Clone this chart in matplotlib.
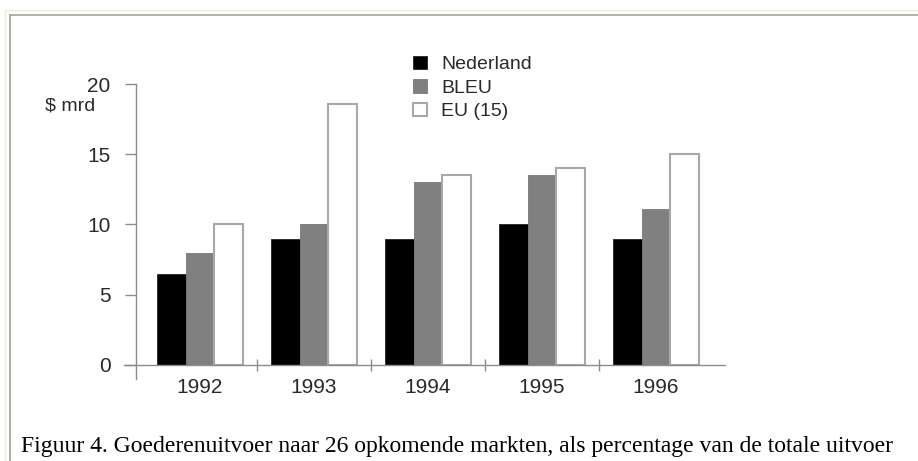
import matplotlib
matplotlib.use('Agg')
import matplotlib.pyplot as plt
from matplotlib.lines import Line2D
import numpy as np

years = ['1992', '1993', '1994', '1995', '1996']
nederland = [6.5, 9.0, 9.0, 10.0, 9.0]
bleu = [8.0, 10.0, 13.0, 13.5, 11.1]
eu15 = [10.0, 18.6, 13.5, 14.0, 15.0]
series_names = ['Nederland', 'BLEU', 'EU (15)']
y_ticks = [0, 5, 10, 15, 20]

W, H = 918, 461
plt.rcParams['font.family'] = ['Liberation Sans', 'DejaVu Sans']

fig = plt.figure(figsize=(W / 100, H / 100), dpi=100)
fig.patch.set_facecolor('white')

# page frame (html table border look)
def px_line(x0, y0, x1, y1, color, lw=1.0):
    fig.add_artist(Line2D([x0 / W, x1 / W], [1 - y0 / H, 1 - y1 / H],
                          transform=fig.transFigure, color=color, lw=lw))

px_line(4.5, 10.5, W, 10.5, '#ecebdc')
px_line(4.5, 10.5, 4.5, H, '#ecebdc')
px_line(10, 15.5, W, 15.5, '#a6a59c', 1.2)
px_line(10, 15.5, 10, H, '#a6a59c', 1.2)

# axes: x from 124 to 725 px, y from 379 (bottom) to 84 (top)
ax = fig.add_axes([124 / W, (H - 379) / H, 601 / W, 295 / H])
ax.set_xlim(-0.666, 4.605)
ax.set_ylim(-1.0, 20)

x = np.arange(len(years))
bw = 0.25
b1 = ax.bar(x - bw, nederland, bw, color='black', edgecolor='#222222', linewidth=0.6)
b2 = ax.bar(x, bleu, bw, color='#808080', edgecolor='#787878', linewidth=0.6)
b3 = ax.bar(x + bw, eu15, bw, color='white', edgecolor='#a8a8a8', linewidth=1.5)

axis_col = '#8c8c8c'
text_col = '#2a2a2a'
for s in ['top', 'right']:
    ax.spines[s].set_visible(False)
ax.spines['left'].set_position(('data', -0.561))
ax.spines['bottom'].set_position(('data', 0))
ax.spines['left'].set_color(axis_col)
ax.spines['bottom'].set_color(axis_col)
ax.spines['left'].set_linewidth(1.0)
ax.spines['bottom'].set_linewidth(1.0)

ax.set_yticks(y_ticks)
ax.set_yticklabels([str(v) for v in y_ticks])
ax.tick_params(axis='y', direction='out', length=8, width=1.0, color=axis_col,
               pad=10.2, labelsize=15, labelcolor=text_col)

ax.set_xticks(x)
ax.set_xticklabels(years)
ax.tick_params(axis='x', which='major', length=0, pad=9.5, labelsize=15,
               labelcolor=text_col)
ax.set_xticks(x[:-1] + 0.5, minor=True)
ax.tick_params(axis='x', which='minor', direction='inout', length=8, width=1.0,
               color=axis_col)

fig.text(70 / W, 1 - 106 / H, '$ mrd', fontsize=14, color=text_col,
         ha='center', va='center')

leg = ax.legend([b1, b2, b3], series_names, loc='upper left',
                bbox_to_anchor=(413 / W, 1 - 56 / H), bbox_transform=fig.transFigure,
                frameon=False, fontsize=14, borderpad=0, borderaxespad=0,
                handlelength=0.72, handleheight=0.67, handletextpad=0.72,
                labelspacing=0.3)
for t in leg.get_texts():
    t.set_color(text_col)

fig.text(21 / W, 1 - 452 / H,
         'Figuur 4. Goederenuitvoer naar 26 opkomende markten, als percentage van de totale uitvoer',
         fontsize=17, family=['Liberation Serif', 'DejaVu Serif'], color='black',
         ha='left', va='baseline')

fig.savefig('out.png', dpi=100, facecolor='white')
